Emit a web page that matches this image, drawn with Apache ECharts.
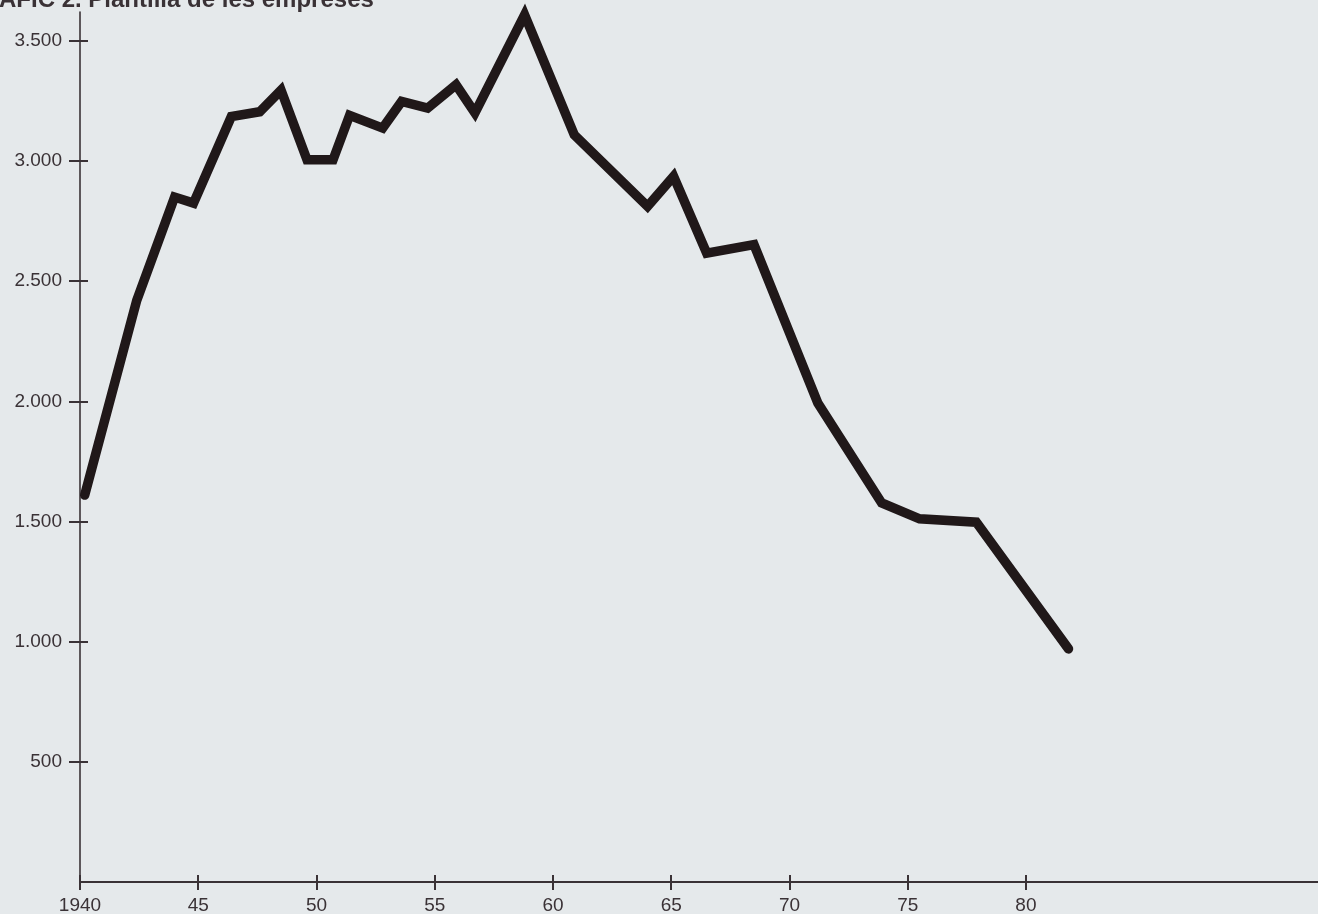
<!DOCTYPE html>
<html>
<head>
<meta charset="utf-8">
<script src="https://cdn.jsdelivr.net/npm/echarts@6/dist/echarts.min.js"></script>
<style>
html,body{margin:0;padding:0;background:#e5e9eb;}
#chart{width:1318px;height:914px;}
</style>
</head>
<body>
<div id="chart"></div>
<script>
// ---- data ----
const titleText = 'GRÀFIC 2. Plantilla de les empreses';
const years   = [1940.2, 1942.4, 1944.0, 1944.8, 1946.4, 1947.6, 1948.5, 1949.6, 1950.7, 1951.4, 1952.8, 1953.6, 1954.7, 1955.9, 1956.7, 1958.8, 1960.9, 1964.0, 1965.1, 1966.5, 1968.5, 1971.2, 1973.9, 1975.5, 1977.9, 1981.8];
const workers = [1610, 2420, 2850, 2825, 3185, 3205, 3295, 3005, 3005, 3190, 3137, 3248, 3220, 3317, 3200, 3608, 3109, 2811, 2936, 2617, 2652, 1993, 1577, 1511, 1497, 970];
const xTicks = [1940, 1945, 1950, 1955, 1960, 1965, 1970, 1975, 1980];
const xTickLabels = ['1940', '45', '50', '55', '60', '65', '70', '75', '80'];
const yTicks = [500, 1000, 1500, 2000, 2500, 3000, 3500];
const yTickLabels = ['500', '1.000', '1.500', '2.000', '2.500', '3.000', '3.500'];

const ink = '#3a3236';
const font = 'Liberation Sans, Arial, Helvetica, sans-serif';
const seriesData = years.map((y, i) => [y, workers[i]]);

const xMin = 1940, xMax = 1992.35, yMin = 0, yMax = 3620;

const chart = echarts.init(document.getElementById('chart'), null, {renderer: 'canvas'});
chart.setOption({
  animation: false,
  backgroundColor: '#e5e9eb',
  title: {
    text: titleText,
    left: -42,
    top: -17,
    textStyle: {fontFamily: font, fontSize: 24, fontWeight: 'bold', color: ink}
  },
  grid: {left: 80, right: 0, top: 12, bottom: 32, containLabel: false, outerBoundsMode: 'none'},
  xAxis: [
    {
      type: 'value', min: xMin, max: xMax, position: 'bottom',
      axisLine: {show: true, onZero: false, lineStyle: {color: ink, width: 2}},
      axisTick: {show: true, inside: false, length: 8, customValues: xTicks, lineStyle: {color: ink, width: 2}},
      axisLabel: {
        show: true, customValues: xTicks, margin: 14,
        fontFamily: font, fontSize: 19, color: ink,
        formatter: v => xTickLabels[xTicks.indexOf(Math.round(v))]
      },
      splitLine: {show: false}
    },
    {
      type: 'value', min: xMin, max: xMax, position: 'bottom',
      axisLine: {show: false, onZero: false},
      axisTick: {show: true, inside: true, length: 7, customValues: xTicks, lineStyle: {color: ink, width: 2}},
      axisLabel: {show: false},
      splitLine: {show: false}
    }
  ],
  yAxis: [
    {
      type: 'value', min: yMin, max: yMax, position: 'left',
      axisLine: {show: true, onZero: false, lineStyle: {color: ink, width: 1.6}},
      axisTick: {show: true, inside: false, length: 11, customValues: yTicks, lineStyle: {color: ink, width: 2}},
      axisLabel: {
        show: true, customValues: yTicks, margin: 18,
        fontFamily: font, fontSize: 19, color: ink,
        formatter: v => yTickLabels[yTicks.indexOf(Math.round(v))]
      },
      splitLine: {show: false}
    },
    {
      type: 'value', min: yMin, max: yMax, position: 'left',
      axisLine: {show: false, onZero: false},
      axisTick: {show: true, inside: true, length: 8, customValues: yTicks, lineStyle: {color: ink, width: 2}},
      axisLabel: {show: false},
      splitLine: {show: false}
    }
  ],
  series: [{
    type: 'line',
    xAxisIndex: 0,
    yAxisIndex: 0,
    data: seriesData,
    symbol: 'none',
    clip: false,
    lineStyle: {color: '#201819', width: 9.5, join: 'miter', miterLimit: 10, cap: 'round'}
  }]
});
</script>
</body>
</html>
